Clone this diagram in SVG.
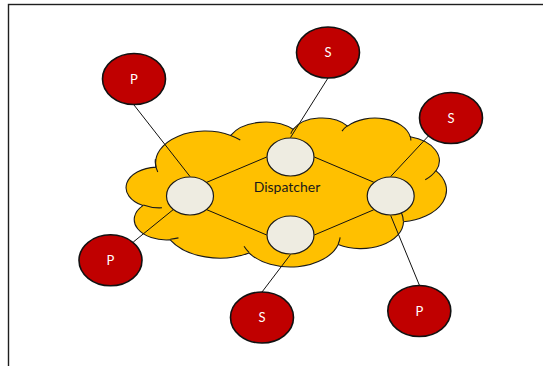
<svg xmlns="http://www.w3.org/2000/svg" width="543" height="366" viewBox="0 0 543 366">
  <style>
    .frame { fill: none; stroke: #1e1e1e; stroke-width: 1.4; }
    .cloud { fill: #FFC000; stroke: #1a1a1a; stroke-width: 1.1; stroke-linejoin: round; }
    .crease { fill: none; stroke: #1a1a1a; stroke-width: 1.1; }
    .link { fill: none; stroke: #111; stroke-width: 1; }
    .hub { fill: #EEECE1; stroke: #1a1a1a; stroke-width: 1.2; }
    .client { fill: #C00000; stroke: #111; stroke-width: 1.6; }
    .client-label { fill: #ffffff; font-family: Lato, "Liberation Sans", sans-serif; font-size: 13px; text-anchor: middle; }
    .cloud-label { fill: #1a1a1a; font-family: Lato, "Liberation Sans", sans-serif; font-size: 14px; text-anchor: middle; }
  </style>

  <!-- page frame, runs past the right and bottom edges -->
  <rect class="frame" x="8.5" y="4.5" width="600" height="420"/>

  <!-- dispatcher cloud -->
  <g id="dispatcher">
    <path class="cloud" d="M156.1,167.1 A49.86,31.7 0 0 1 230.7,135.4 A39.38,25.06 0 0 1 293.1,129.3 A32.23,20.5 0 0 1 347.6,126.1 A35.86,22.75 0 0 1 410.2,136.7 A39.38,25.08 0 0 1 436.1,170.8 A50.03,31.8 0 0 1 403.5,221.7 A42.72,27.13 0 0 1 338.2,244.5 A49.86,31.78 0 0 1 249,252.9 A57,36.36 0 0 1 170.2,239.8 A32.19,20.41 0 0 1 142.9,205.6 A32.08,20.5 0 0 1 156.1,167.1 Z"/>
    <path class="crease" d="M157.77,171.96 A49.86,31.7 0 0 1 155.44,159.05 M230.68,135.41 A49.86,31.7 0 0 1 240.28,140.06 M290.79,133.78 A32.23,20.5 0 0 1 293.44,128.99 M342.01,131.13 A35.86,22.75 0 0 1 347.49,125.57 M410.28,136.21 A35.86,22.75 0 0 1 410.85,140.57 M435.94,170.46 A39.38,25.08 0 0 1 425.25,179.68 M379.31,196.67 A42.72,27.13 0 0 1 403.32,221.28 M340.16,237.36 A49.86,31.78 0 0 1 338.19,243.94 M248.97,252.32 A49.86,31.78 0 0 1 244.04,246.32 M178.46,237.87 A32.19,20.41 0 0 1 170.27,239.18 M161.95,207.8 A32.08,20.5 0 0 1 143.25,205.03"/>
    <text class="cloud-label" x="287" y="192">Dispatcher</text>
  </g>

  <!-- connectors -->
  <g id="connectors">
    <line class="link" x1="207" y1="182.2" x2="266.7" y2="157"/>
    <line class="link" x1="314.3" y1="157" x2="373.7" y2="182.2"/>
    <line class="link" x1="207" y1="209.8" x2="266.7" y2="235"/>
    <line class="link" x1="314.3" y1="235" x2="373.7" y2="209.8"/>
    <line class="link" x1="134" y1="105" x2="190" y2="176.5"/>
    <line class="link" x1="328" y1="78" x2="290.5" y2="137.5"/>
    <line class="link" x1="428.4" y1="136" x2="390.7" y2="176.5"/>
    <line class="link" x1="133.3" y1="242" x2="173" y2="209.8"/>
    <line class="link" x1="262" y1="292" x2="290.5" y2="254.5"/>
    <line class="link" x1="419.3" y1="285" x2="390.7" y2="215.5"/>
  </g>

  <!-- broker hubs inside the cloud -->
  <g id="hub-left"><ellipse class="hub" cx="190" cy="196" rx="23.5" ry="19"/></g>
  <g id="hub-top"><ellipse class="hub" cx="290.5" cy="157" rx="23.5" ry="19"/></g>
  <g id="hub-right"><ellipse class="hub" cx="390.7" cy="196" rx="23.5" ry="19"/></g>
  <g id="hub-bottom"><ellipse class="hub" cx="290.5" cy="235" rx="23.5" ry="19"/></g>

  <!-- publishers (P) and subscribers (S) -->
  <g id="pub-top-left">
    <ellipse class="client" cx="134" cy="79" rx="31.5" ry="25.5"/>
    <text class="client-label" x="134" y="83.7">P</text>
  </g>
  <g id="sub-top">
    <ellipse class="client" cx="328" cy="52.5" rx="31.5" ry="25.5"/>
    <text class="client-label" x="328" y="57.2">S</text>
  </g>
  <g id="sub-right">
    <ellipse class="client" cx="451" cy="118" rx="31.5" ry="25.5"/>
    <text class="client-label" x="451" y="122.7">S</text>
  </g>
  <g id="pub-bottom-left">
    <ellipse class="client" cx="110.5" cy="260.3" rx="31.5" ry="25.5"/>
    <text class="client-label" x="110.5" y="265">P</text>
  </g>
  <g id="sub-bottom">
    <ellipse class="client" cx="262" cy="317.5" rx="31.5" ry="25.5"/>
    <text class="client-label" x="262" y="322.2">S</text>
  </g>
  <g id="pub-bottom-right">
    <ellipse class="client" cx="419.3" cy="311" rx="31.5" ry="25.5"/>
    <text class="client-label" x="419.3" y="315.7">P</text>
  </g>
</svg>
